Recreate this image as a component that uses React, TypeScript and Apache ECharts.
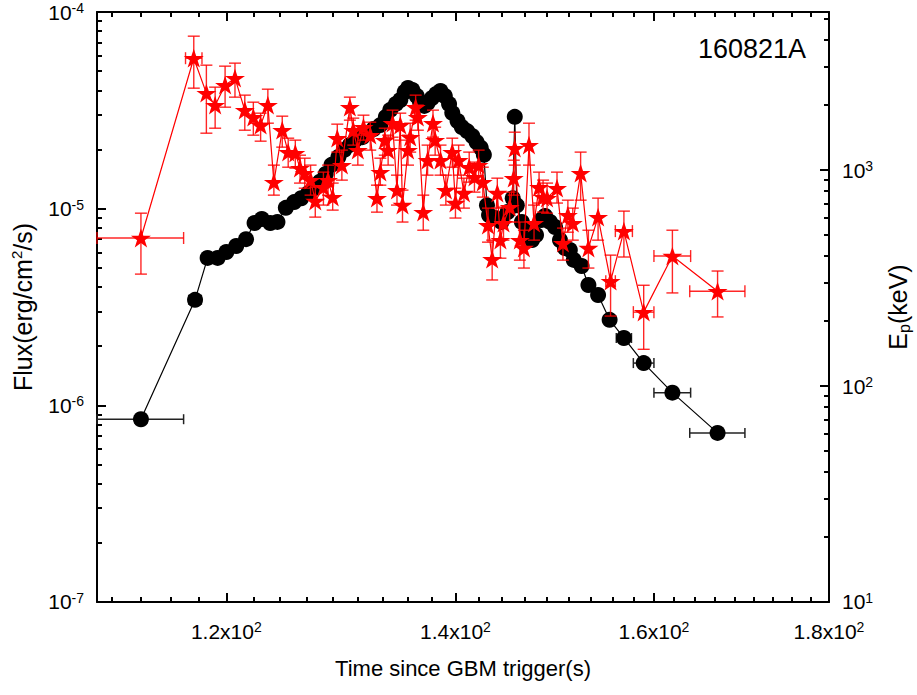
import React, { useEffect, useRef } from 'react';
import * as echarts from 'echarts';

// ---------- Data ----------
// Energy flux light curve (black circles)
const fluxTime = [
  113.3, 117.5, 118.5, 119.3, 120.0, 120.8, 121.6, 122.3, 122.9, 123.6,
  124.2, 124.9, 125.6, 126.2, 126.8, 127.3, 127.8, 128.3, 128.8, 129.4,
  129.9, 130.4, 130.9, 131.5, 132.0, 132.5, 133.1, 133.6, 134.0, 134.5,
  134.9, 135.3, 135.6, 136.0, 136.4, 136.7, 137.1, 137.4, 137.8, 138.2,
  138.6, 139.0, 139.4, 139.7, 140.2, 140.6, 141.1, 141.6, 142.0, 142.4,
  142.7, 143.0, 143.2, 143.8, 144.4, 145.0, 145.5, 145.7, 145.9, 146.4,
  146.9, 147.4, 147.8, 148.3, 148.7, 149.2, 149.7, 150.2, 150.7, 151.2,
  151.6, 152.4, 153.1, 154.1, 155.3, 156.8, 158.9, 162.0, 167.0,
];
const fluxValue = [
  8.5e-7, 3.44e-6, 5.62e-6, 5.62e-6, 6.02e-6, 6.46e-6, 7.0e-6, 8.46e-6, 8.86e-6, 8.46e-6,
  8.56e-6, 1.01e-5, 1.08e-5, 1.13e-5, 1.2e-5, 1.27e-5, 1.37e-5, 1.5e-5, 1.67e-5, 1.83e-5,
  1.99e-5, 2.11e-5, 2.24e-5, 2.31e-5, 2.43e-5, 2.54e-5, 2.66e-5, 2.93e-5, 3.18e-5, 3.41e-5,
  3.57e-5, 3.92e-5, 4.11e-5, 4.01e-5, 3.74e-5, 3.49e-5, 3.33e-5, 3.45e-5, 3.65e-5, 3.83e-5,
  3.97e-5, 3.74e-5, 3.41e-5, 3.07e-5, 2.79e-5, 2.6e-5, 2.48e-5, 2.34e-5, 2.18e-5, 2.04e-5,
  1.88e-5, 1.04e-5, 9.29e-6, 8.97e-6, 8.56e-6, 9.62e-6, 1.13e-5, 2.93e-5, 1.04e-5, 8.56e-6,
  7.61e-6, 6.93e-6, 7.35e-6, 8.76e-6, 9.18e-6, 8.56e-6, 8.07e-6, 6.93e-6, 6.31e-6, 6.17e-6,
  5.49e-6, 5.11e-6, 4.09e-6, 3.64e-6, 2.72e-6, 2.2e-6, 1.64e-6, 1.16e-6, 7.24e-7,
];
const fluxTimeErr = [
  3.3, 0.5, 0, 0, 0, 0, 0, 0, 0, 0,
  0, 0, 0, 0, 0, 0, 0, 0, 0, 0,
  0, 0, 0, 0, 0, 0, 0, 0, 0, 0,
  0, 0, 0, 0, 0, 0, 0, 0, 0, 0,
  0, 0, 0, 0, 0, 0, 0, 0, 0, 0,
  0, 0, 0, 0, 0, 0, 0, 0, 0, 0,
  0, 0, 0, 0, 0, 0, 0, 0, 0, 0,
  0, 0, 0, 0, 0.5, 0.8, 1.1, 2.0, 3.1,
];

// Peak energy (red stars)
const epTime = [
  113.3, 117.4, 118.4, 119.1, 119.9, 120.7, 121.5, 122.2, 122.8, 123.4,
  123.9, 124.6, 125.1, 125.7, 126.1, 126.5, 127.0, 127.4, 128.1, 128.5,
  128.9, 129.3, 129.7, 130.4, 130.7, 131.1, 131.6, 132.2, 132.8, 133.1,
  133.5, 133.8, 134.2, 134.6, 134.9, 135.1, 135.6, 135.8, 136.3, 136.5,
  137.0, 137.4, 137.9, 138.1, 138.6, 139.1, 139.7, 140.0, 140.3, 140.8,
  141.3, 141.8, 142.2, 142.6, 143.1, 143.5, 144.0, 144.3, 144.6, 145.2,
  145.6, 145.7, 146.2, 146.6, 147.1, 147.6, 148.1, 148.5, 148.9, 149.9,
  150.5, 151.0, 151.5, 152.3, 153.1, 154.1, 155.4, 156.8, 158.9, 162.0,
  167.0,
];
const epValue = [
  485, 3299, 2273, 2000, 2475, 2667, 1896, 1759, 1615, 2000,
  880, 1531, 1212, 1199, 1022, 969, 899, 719, 834, 899,
  750, 1406, 1055, 1957, 1531, 1238, 1581, 1452, 742, 979,
  1377, 1238, 1650, 808, 1615, 689, 1238, 1421, 1957, 1759,
  639, 1112, 1650, 1377, 1112, 808, 1212, 704, 1112, 783,
  1032, 928, 1055, 880, 556, 387, 783, 474, 568, 674,
  918, 1264, 474, 436, 1306, 568, 834, 750, 742, 825,
  459, 619, 568, 969, 436, 606, 306, 522, 220, 400,
  275,
];
const epLow = [
  330, 2397, 1483, 1564, 1957, 2178, 1531, 1452, 1362, 1650,
  766, 1278, 1032, 1022, 871, 825, 766, 606, 689, 766,
  653, 1212, 899, 1704, 1306, 1055, 1377, 1238, 639, 852,
  1173, 1055, 1421, 689, 1377, 575, 1055, 1212, 1704, 1531,
  527, 948, 1421, 1173, 948, 689, 1032, 600, 948, 667,
  880, 791, 899, 750, 464, 310, 667, 391, 474, 575,
  766, 1055, 383, 352, 1055, 474, 704, 639, 632, 704,
  383, 516, 474, 726, 352, 474, 211, 396, 148, 270,
  209,
];
const epHigh = [
  632, 4173, 3063, 2423, 3031, 3130, 2225, 2064, 1836, 2371,
  1055, 1778, 1406, 1377, 1173, 1136, 1055, 834, 979, 1055,
  871, 1633, 1238, 2178, 1741, 1452, 1797, 1668, 852, 1136,
  1564, 1452, 1896, 948, 1836, 808, 1452, 1650, 2225, 2000,
  766, 1306, 1896, 1581, 1306, 948, 1406, 825, 1306, 918,
  1212, 1089, 1238, 1032, 667, 474, 918, 575, 674, 791,
  1112, 1499, 575, 527, 1650, 689, 979, 899, 871, 979,
  539, 726, 667, 1212, 527, 742, 404, 646, 293, 527,
  341,
];
const epTimeErr = [
  3.3, 0.65, 0, 0, 0, 0, 0, 0, 0, 0,
  0, 0, 0, 0, 0, 0, 0, 0, 0, 0,
  0, 0, 0, 0, 0, 0, 0, 0, 0, 0,
  0, 0, 0, 0, 0, 0, 0, 0, 0, 0,
  0, 0, 0, 0, 0, 0, 0, 0, 0, 0,
  0, 0, 0, 0, 0, 0, 0, 0, 0, 0,
  0, 0, 0, 0, 0, 0, 0, 0, 0, 0,
  0, 0, 0, 0, 0, 0, 0.5, 0.9, 1.1, 2.0,
  3.1,
];

// Axis ticks
const xMajorTicks = [120, 140, 160, 179.9999];
const xMinorTicks = [
  111.1, 113.3, 115.6, 117.8, 122.2, 124.4, 126.7, 128.9, 131.1, 133.3, 135.6, 137.8,
  142.2, 144.4, 146.7, 148.9, 151.1, 153.3, 155.6, 157.8, 162.2, 164.4, 166.7, 168.9,
  171.1, 173.3, 175.6, 177.8,
];
const fluxMajorTicks = [1.000001e-7, 1e-6, 1e-5, 0.999999e-4];
const fluxMinorTicks = [
  2e-7, 3e-7, 4e-7, 5e-7, 6e-7, 7e-7, 8e-7, 9e-7,
  2e-6, 3e-6, 4e-6, 5e-6, 6e-6, 7e-6, 8e-6, 9e-6,
  2e-5, 3e-5, 4e-5, 5e-5, 6e-5, 7e-5, 8e-5, 9e-5,
];
const epMajorTicks = [10.00001, 100, 1000];
const epMinorTicks = [
  20, 30, 40, 50, 60, 70, 80, 90,
  200, 300, 400, 500, 600, 700, 800, 900,
  2000, 3000, 4000, 5000,
];

const FONT = '"Liberation Sans", Arial, Helvetica, sans-serif';
const STAR = 'path://M50,0 L61.8,35.1 L98.9,35.1 L68.8,56.8 L80.3,91.9 L50,70.2 L19.7,91.9 L31.2,56.8 L1.1,35.1 L38.2,35.1 Z';

function errorRenderer(color: string, capHalf: number, width: number) {
  return (params: any, api: any) => {
    const x = api.value(0);
    const y = api.value(1);
    const xl = api.value(2);
    const xh = api.value(3);
    const yl = api.value(4);
    const yh = api.value(5);
    const style = { stroke: color, lineWidth: width, fill: 'none' };
    const children: any[] = [];
    if (xh > xl) {
      const p1 = api.coord([xl, y]);
      const p2 = api.coord([xh, y]);
      children.push({ type: 'line', shape: { x1: p1[0], y1: p1[1], x2: p2[0], y2: p2[1] }, style });
      children.push({ type: 'line', shape: { x1: p1[0], y1: p1[1] - capHalf, x2: p1[0], y2: p1[1] + capHalf }, style });
      children.push({ type: 'line', shape: { x1: p2[0], y1: p2[1] - capHalf, x2: p2[0], y2: p2[1] + capHalf }, style });
    }
    if (yh > yl) {
      const q1 = api.coord([x, yl]);
      const q2 = api.coord([x, yh]);
      children.push({ type: 'line', shape: { x1: q1[0], y1: q1[1], x2: q2[0], y2: q2[1] }, style });
      children.push({ type: 'line', shape: { x1: q1[0] - capHalf, y1: q1[1], x2: q1[0] + capHalf, y2: q1[1] }, style });
      children.push({ type: 'line', shape: { x1: q2[0] - capHalf, y1: q2[1], x2: q2[0] + capHalf, y2: q2[1] }, style });
    }
    return { type: 'group', children };
  };
}

const supRich = {
  sup: { fontSize: 14, lineHeight: 15, verticalAlign: 'top', fontFamily: FONT, color: '#000' },
};

export default function App() {
  const ref = useRef<HTMLDivElement>(null);

  useEffect(() => {
    if (!ref.current) return;
    const chart = echarts.init(ref.current, undefined, { renderer: 'svg' });

    const fluxPoints = fluxTime.map((t, i) => [t, fluxValue[i]]);
    const fluxErr = fluxTime.map((t, i) => [t, fluxValue[i], t - fluxTimeErr[i], t + fluxTimeErr[i], fluxValue[i], fluxValue[i]]);
    const epPoints = epTime.map((t, i) => [t, epValue[i]]);
    const epErr = epTime.map((t, i) => [t, epValue[i], t - epTimeErr[i], t + epTimeErr[i], epLow[i], epHigh[i]]);

    const axisLineStyle = { color: '#000', width: 2 };
    const tickDef = (vals: number[], len: number) => ({
      show: true, inside: true, length: len, customValues: vals,
      lineStyle: { color: '#000', width: 2 },
    });

    const baseX = { type: 'log', logBase: 10, min: 110, max: 180, gridIndex: 0, splitLine: { show: false }, minorTick: { show: false } };
    const baseFlux = { type: 'log', logBase: 10, min: 1e-7, max: 1e-4, splitLine: { show: false }, minorTick: { show: false } };
    const baseEp = { type: 'log', logBase: 10, min: 10, max: 5400, splitLine: { show: false }, minorTick: { show: false } };

    const labelCommon = { fontSize: 21, lineHeight: 22, color: '#000', fontFamily: FONT, rich: supRich };

    chart.setOption({
      animation: false,
      backgroundColor: '#fff',
      textStyle: { fontFamily: FONT },
      grid: { left: 97, top: 12, right: 88, bottom: 93, containLabel: false, outerBoundsMode: 'none' },
      xAxis: [
        {
          ...baseX,
          position: 'bottom',
          axisLine: { show: true, onZero: false, lineStyle: axisLineStyle },
          axisTick: tickDef(xMajorTicks, 9),
          axisLabel: {
            show: true, customValues: xMajorTicks, margin: 18, ...labelCommon,
            formatter: (v: number) => `${(Math.round(v) / 100).toFixed(1)}x10{sup|2}`,
          },
          name: 'Time since GBM trigger(s)',
          nameLocation: 'middle',
          nameGap: 55,
          nameTextStyle: { fontSize: 22, color: '#000', fontFamily: FONT },
        },
        {
          ...baseX,
          position: 'bottom',
          axisLine: { show: false, onZero: false },
          axisTick: tickDef(xMinorTicks, 5),
          axisLabel: { show: false },
        },
        {
          ...baseX,
          position: 'top',
          axisLine: { show: true, onZero: false, lineStyle: axisLineStyle },
          axisTick: tickDef(xMajorTicks, 9),
          axisLabel: { show: false },
        },
        {
          ...baseX,
          position: 'top',
          axisLine: { show: false, onZero: false },
          axisTick: tickDef(xMinorTicks, 5),
          axisLabel: { show: false },
        },
      ],
      yAxis: [
        {
          ...baseFlux,
          position: 'left',
          axisLine: { show: true, onZero: false, lineStyle: axisLineStyle },
          axisTick: tickDef(fluxMajorTicks, 9),
          axisLabel: {
            show: true, customValues: fluxMajorTicks, margin: 13, ...labelCommon,
            formatter: (v: number) => `10{sup|${Math.round(Math.log10(v))}}`,
          },
          name: 'Flux(erg/cm{sup|2}/s)',
          nameLocation: 'middle',
          nameRotate: 90,
          nameGap: 54,
          nameTextStyle: {
            fontSize: 25, lineHeight: 28, color: '#000', fontFamily: FONT,
            rich: { sup: { fontSize: 15, lineHeight: 16, verticalAlign: 'top', fontFamily: FONT, color: '#000' } },
          },
        },
        {
          ...baseFlux,
          position: 'left',
          axisLine: { show: false, onZero: false },
          axisTick: tickDef(fluxMinorTicks, 5),
          axisLabel: { show: false },
        },
        {
          ...baseEp,
          position: 'right',
          axisLine: { show: true, onZero: false, lineStyle: axisLineStyle },
          axisTick: tickDef(epMajorTicks, 9),
          axisLabel: {
            show: true, customValues: epMajorTicks, margin: 13, ...labelCommon,
            formatter: (v: number) => `10{sup|${Math.round(Math.log10(v))}}`,
          },
          name: 'E{sub|p}(keV)',
          nameLocation: 'middle',
          nameRotate: 90,
          nameGap: 46,
          nameTextStyle: {
            fontSize: 25, lineHeight: 28, color: '#000', fontFamily: FONT,
            rich: { sub: { fontSize: 16, lineHeight: 16, verticalAlign: 'bottom', fontFamily: FONT, color: '#000' } },
          },
        },
        {
          ...baseEp,
          position: 'right',
          axisLine: { show: false, onZero: false },
          axisTick: tickDef(epMinorTicks, 5),
          axisLabel: { show: false },
        },
      ],
      graphic: [
        {
          type: 'text', left: 698, top: 35, z: 100,
          style: { text: '160821A', fontSize: 27, fontFamily: FONT, fill: '#000' },
        },
      ],
      series: [
        {
          type: 'custom', name: 'fluxErr', xAxisIndex: 0, yAxisIndex: 0, z: 2,
          renderItem: errorRenderer('#222', 5, 1.5),
          encode: { x: 0, y: 1 },
          data: fluxErr,
        },
        {
          type: 'line', name: 'Flux', xAxisIndex: 0, yAxisIndex: 0, z: 3,
          data: fluxPoints,
          symbol: 'circle', symbolSize: 16,
          itemStyle: { color: '#000' },
          lineStyle: { color: '#000', width: 1.2 },
        },
        {
          type: 'custom', name: 'epErr', xAxisIndex: 0, yAxisIndex: 2, z: 4,
          renderItem: errorRenderer('rgba(255,0,0,0.85)', 6, 1.4),
          encode: { x: 0, y: 1 },
          data: epErr,
        },
        {
          type: 'line', name: 'Ep', xAxisIndex: 0, yAxisIndex: 2, z: 5,
          data: epPoints,
          symbol: STAR, symbolSize: 20, symbolKeepAspect: true,
          itemStyle: { color: '#ff0000' },
          lineStyle: { color: '#ff0000', width: 1.2 },
        },
      ],
    });

    return () => chart.dispose();
  }, []);

  return (
    <div
      ref={ref}
      style={{ position: 'fixed', left: 0, top: 0, width: 917, height: 695, background: '#fff' }}
    />
  );
}
